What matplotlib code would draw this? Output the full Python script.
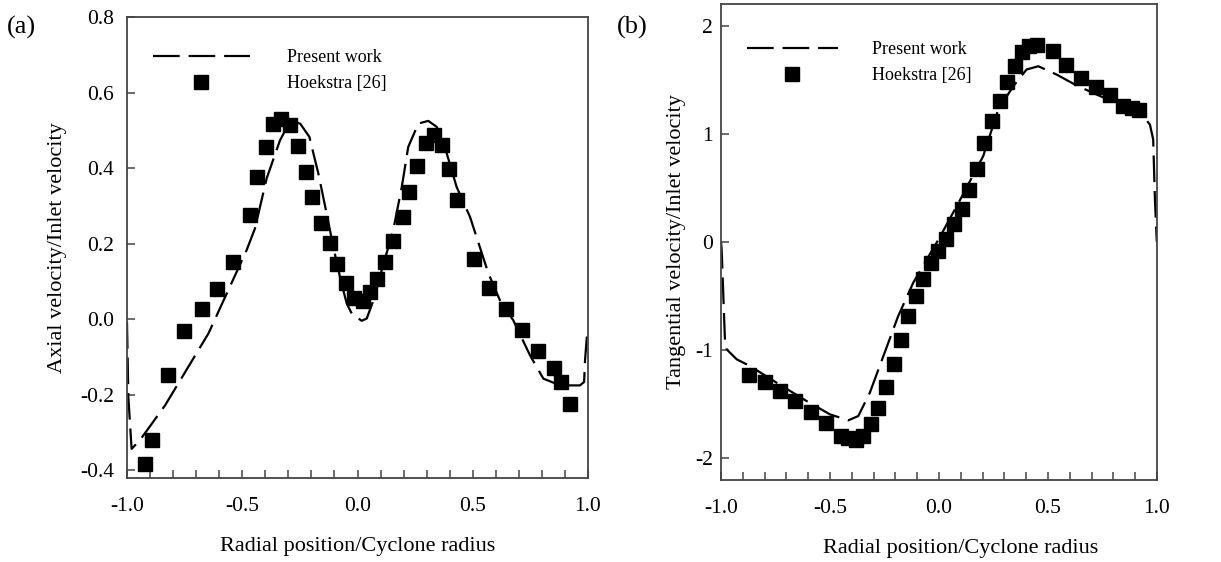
import numpy as np
import matplotlib
matplotlib.use("Agg")
import matplotlib.pyplot as plt
from matplotlib.ticker import MultipleLocator, FormatStrFormatter

plt.rcParams['font.family'] = ['Liberation Serif', 'DejaVu Serif']
plt.rcParams['axes.unicode_minus'] = False

# (a) axial velocity
axial_sim_r = [-1.0, -0.994, -0.98, -0.944, -0.835, -0.647, -0.481, -0.445, -0.394,
               -0.336, -0.293, -0.249, -0.209, -0.170, -0.134, -0.105, -0.076,
               -0.047, -0.025, 0.018, 0.040, 0.069, 0.105, 0.155, 0.192, 0.220,
               0.264, 0.307, 0.344, 0.387, 0.430, 0.488, 0.568, 0.618, 0.676,
               0.748, 0.806, 0.879, 0.965, 0.983, 0.987, 0.997]
axial_sim_v = [-0.007, -0.206, -0.343, -0.32, -0.228, -0.038, 0.183, 0.240, 0.373,
               0.474, 0.523, 0.518, 0.483, 0.386, 0.280, 0.192, 0.112,
               0.042, 0.015, -0.004, 0.002, 0.050, 0.130, 0.236, 0.350, 0.456,
               0.518, 0.525, 0.509, 0.439, 0.350, 0.271, 0.121, 0.050, -0.003,
               -0.095, -0.157, -0.175, -0.175, -0.166, -0.109, -0.029]
axial_exp_r = [-0.922, -0.890, -0.821, -0.751, -0.673, -0.611, -0.541, -0.466, -0.435,
               -0.398, -0.365, -0.333, -0.293, -0.258, -0.223, -0.196, -0.160,
               -0.119, -0.090, -0.050, -0.015, 0.023, 0.054, 0.083, 0.119, 0.155,
               0.196, 0.225, 0.257, 0.296, 0.332, 0.365, 0.397, 0.433, 0.505,
               0.572, 0.644, 0.714, 0.785, 0.852, 0.883, 0.922]
axial_exp_v = [-0.382, -0.319, -0.148, -0.031, 0.026, 0.081, 0.152, 0.277, 0.377,
               0.456, 0.518, 0.529, 0.513, 0.459, 0.390, 0.324, 0.255,
               0.202, 0.147, 0.095, 0.056, 0.049, 0.072, 0.106, 0.152, 0.207,
               0.271, 0.336, 0.405, 0.467, 0.487, 0.461, 0.397, 0.315, 0.159,
               0.084, 0.026, -0.029, -0.084, -0.129, -0.166, -0.223]

# (b) tangential velocity
tang_sim_r = [-1.0, -0.997, -0.982, -0.974, -0.928, -0.867, -0.745, -0.607, -0.5,
              -0.416, -0.370, -0.317, -0.255, -0.187, -0.118, -0.056, 0.0, 0.1,
              0.203, 0.272, 0.341, 0.402, 0.456, 0.540, 0.632, 0.723, 0.846,
              0.937, 0.968, 0.983, 0.991, 0.999, 1.0]
tang_sim_v = [0.0, -0.07, -0.90, -0.993, -1.085, -1.147, -1.301, -1.471, -1.594,
              -1.649, -1.609, -1.393, -1.055, -0.685, -0.377, -0.162, 0.03, 0.40,
              0.793, 1.224, 1.439, 1.594, 1.624, 1.547, 1.446, 1.363, 1.255,
              1.162, 1.085, 0.947, 0.393, 0.023, 0.0]
tang_exp_r = [-0.872, -0.798, -0.729, -0.661, -0.589, -0.520, -0.451, -0.416, -0.381,
              -0.350, -0.312, -0.278, -0.244, -0.206, -0.176, -0.141, -0.107,
              -0.072, -0.037, -0.003, 0.032, 0.069, 0.104, 0.138, 0.173, 0.208,
              0.245, 0.280, 0.314, 0.349, 0.379, 0.414, 0.448, 0.521, 0.581,
              0.651, 0.719, 0.784, 0.846, 0.884, 0.917]
tang_exp_v = [-1.233, -1.292, -1.378, -1.470, -1.569, -1.670, -1.794, -1.809, -1.831,
              -1.794, -1.686, -1.538, -1.341, -1.132, -0.907, -0.685, -0.500,
              -0.340, -0.192, -0.085, 0.030, 0.162, 0.307, 0.476, 0.676, 0.910,
              1.116, 1.301, 1.476, 1.624, 1.754, 1.809, 1.824, 1.763, 1.640,
              1.517, 1.433, 1.356, 1.255, 1.240, 1.224]

x_ticks = [-1.0, -0.5, 0.0, 0.5, 1.0]
spine_col = '#444444'

fig = plt.figure(figsize=(12.21, 5.62), dpi=100)
ax_a = fig.add_axes([0.104, 0.1495, 0.3776, 0.8203])
ax_b = fig.add_axes([0.5905, 0.146, 0.357, 0.847])


def style_axes(ax, ypad):
    for sp in ax.spines.values():
        sp.set_color(spine_col)
        sp.set_linewidth(1.3)
    ax.set_xlim(-1.0, 1.0)
    ax.set_xticks(x_ticks)
    ax.xaxis.set_major_formatter(FormatStrFormatter('%.1f'))
    ax.xaxis.set_minor_locator(MultipleLocator(0.1))
    ax.tick_params(axis='both', which='both', direction='in', length=6,
                   width=1.1, color=spine_col, labelsize=15.5, top=False, right=False)
    ax.tick_params(axis='x', which='both', pad=14)
    ax.tick_params(axis='y', which='both', pad=ypad)
    ax.set_xlabel('Radial position/Cyclone radius', fontsize=16, labelpad=15)


def draw(ax, sr, sv, er, ev):
    ax.plot(sr, sv, color='black', lw=1.6, dashes=(12, 4), label='Present work')
    ax.plot(er, ev, ls='none', marker='s', ms=9.5, color='black',
            label='Hoekstra [26]')


draw(ax_a, axial_sim_r, axial_sim_v, axial_exp_r, axial_exp_v)
style_axes(ax_a, 9.5)
ax_a.set_ylim(-0.42, 0.8)
ax_a.set_yticks([-0.4, -0.2, 0.0, 0.2, 0.4, 0.6, 0.8])
ax_a.yaxis.set_major_formatter(FormatStrFormatter('%.1f'))
ax_a.set_ylabel('Axial velocity/Inlet velocity', fontsize=16, labelpad=9.5)
ax_a.legend(loc='upper left', bbox_to_anchor=(0.056, 0.93), frameon=False,
            fontsize=13, handlelength=5.37, handletextpad=2.05, labelspacing=0.5,
            borderpad=0, borderaxespad=0)

draw(ax_b, tang_sim_r, tang_sim_v, tang_exp_r, tang_exp_v)
style_axes(ax_b, 6)
ax_b.set_ylim(-2.2, 2.2)
ax_b.set_yticks([-2, -1, 0, 1, 2])
ax_b.set_ylabel('Tangential velocity/Inlet velocity', fontsize=16, labelpad=6)
ax_b.xaxis.label.set_x(0.55)
ax_b.legend(loc='upper left', bbox_to_anchor=(0.059, 0.922), frameon=False,
            fontsize=13, handlelength=5.04, handletextpad=1.92, labelspacing=0.5,
            borderpad=0, borderaxespad=0)

fig.text(0.0057, 0.952, '(a)', fontsize=19, ha='left', va='center')
fig.text(0.505, 0.952, '(b)', fontsize=19, ha='left', va='center')

fig.savefig('out.png', dpi=100)
